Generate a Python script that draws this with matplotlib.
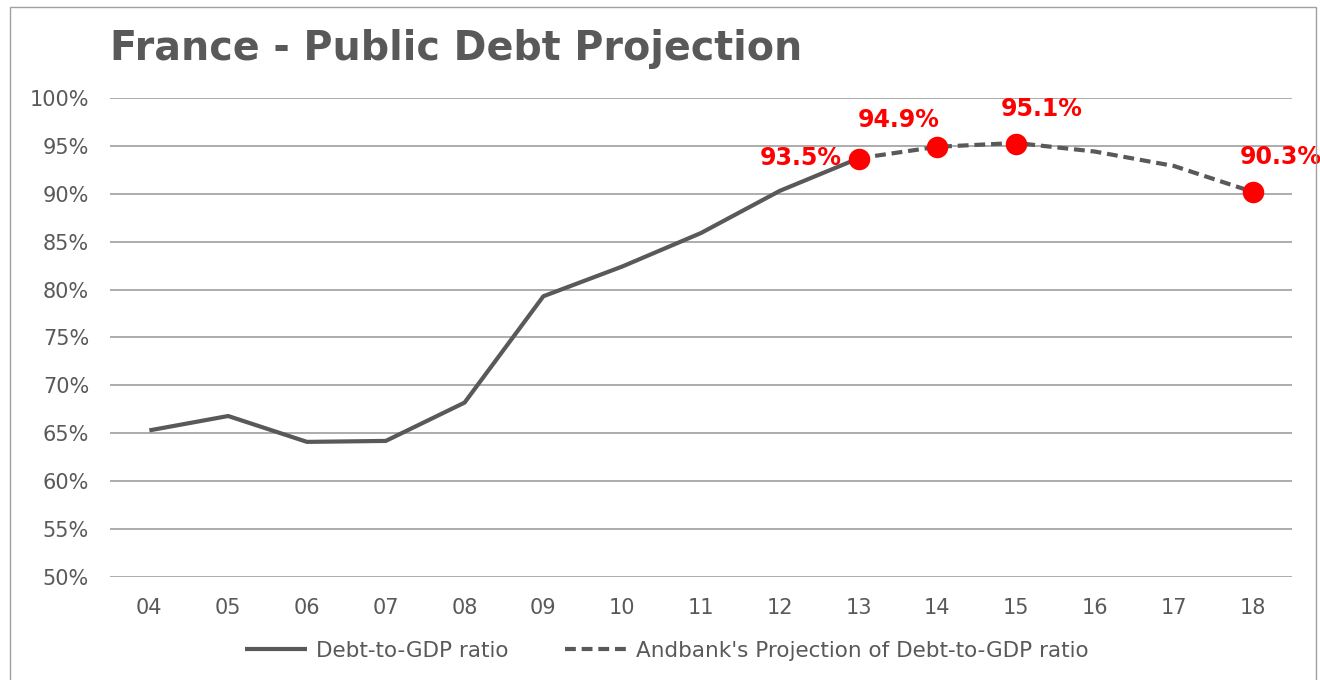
import matplotlib
matplotlib.use("Agg")
import matplotlib.pyplot as plt
from matplotlib.patches import Rectangle
from matplotlib.ticker import FuncFormatter

# data
years = ["04", "05", "06", "07", "08", "09", "10", "11", "12", "13", "14", "15", "16", "17", "18"]
actual = [65.3, 66.8, 64.1, 64.2, 68.2, 79.3, 82.4, 85.9, 90.3, 93.7]
projection = [93.7, 94.9, 95.3, 94.4, 92.9, 90.2]
highlight_years = ["13", "14", "15", "18"]
highlight_vals = [93.6, 94.9, 95.2, 90.2]
highlight_labels = ["93.5%", "94.9%", "95.1%", "90.3%"]
label_offsets = [(-12, 1), (-28, 19), (18, 25), (20, 25)]
label_ha = ["right", "center", "center", "center"]

grey = "#595959"
plt.rcParams["font.family"] = ["DejaVu Sans"]

fig = plt.figure(figsize=(13.2, 6.8), dpi=100)
ax = fig.add_axes([0.0833, 0.1515, 0.8955, 0.7045])

xa = list(range(len(actual)))
start = len(actual) - 1
xp = list(range(start, start + len(projection)))
ax.plot(xa, actual, color=grey, lw=3, solid_capstyle="butt", zorder=3,
        label="Debt-to-GDP ratio")
ax.plot(xp, projection, color=grey, lw=3, dashes=(2.6, 1.4), zorder=3,
        label="Andbank's Projection of Debt-to-GDP ratio")

hx = [years.index(y) for y in highlight_years]
ax.scatter(hx, highlight_vals, s=240, color="#ff0000", zorder=4, linewidths=0)
for x, v, t, off, ha in zip(hx, highlight_vals, highlight_labels, label_offsets, label_ha):
    ax.annotate(t, (x, v), xytext=off, textcoords="offset points", ha=ha, va="center",
                color="#ff0000", fontsize=17, fontweight="bold", zorder=5)

ax.set_xlim(-0.5, len(years) - 0.5)
ax.set_ylim(50, 100)
ax.set_xticks(range(len(years)))
ax.set_xticklabels(years)
ax.set_yticks(range(50, 101, 5))
ax.yaxis.set_major_formatter(FuncFormatter(lambda v, p: f"{v:.0f}%"))
ax.tick_params(length=0, labelsize=15, labelcolor=grey)
ax.tick_params(axis="x", pad=15)
ax.tick_params(axis="y", pad=15)
ax.grid(axis="y", color="#a6a6a6", lw=1.3)
ax.set_axisbelow(True)
for s in ax.spines.values():
    s.set_visible(False)

fig.text(0.0833, 0.928, "France - Public Debt Projection", fontsize=28.5, fontweight="bold",
         color=grey, va="center", ha="left")

leg = fig.legend(loc="center", bbox_to_anchor=(0.505, 0.043), ncol=2, frameon=False,
                 fontsize=15.5, handlelength=2.9, columnspacing=2.6, handletextpad=0.4)
for t in leg.get_texts():
    t.set_color(grey)

fig.patches.append(Rectangle((10 / 1320, -0.05), 1306 / 1320, 1.05 - 7 / 680,
                             transform=fig.transFigure, fill=False, edgecolor="#a0a0a0", lw=1))

fig.savefig("out.png", dpi=100)
